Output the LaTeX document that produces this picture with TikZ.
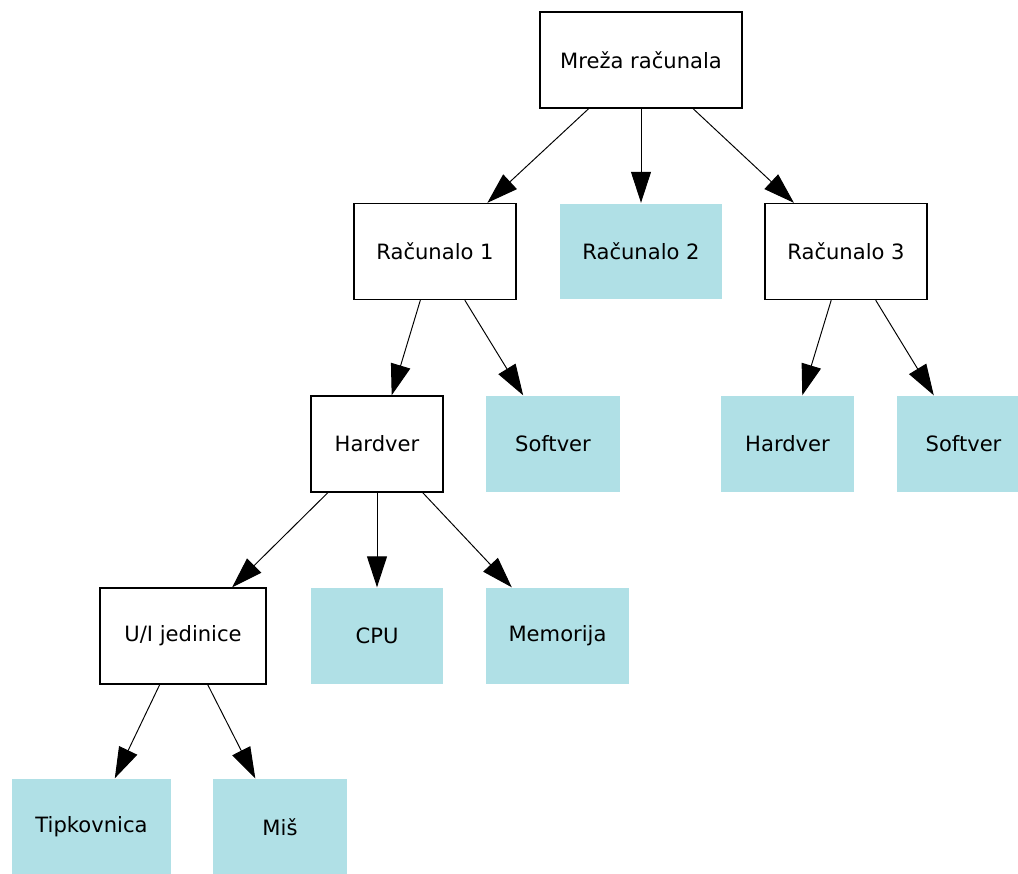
\documentclass[tikz,border=0pt]{standalone}
\usepackage{fontspec}
\setmainfont{DejaVu Sans}
\usepackage{tikz}
\usetikzlibrary{arrows.meta}
\definecolor{powderblue}{HTML}{B0E0E6}

\begin{document}
\begin{tikzpicture}[
      x=0.02cm, y=-0.02cm,
      box/.style={draw=black, line width=0.8pt, fill=white,
                  minimum height=1.92cm, inner sep=0pt,
                  font=\fontsize{12}{14}\selectfont, align=center},
      leaf/.style={box, draw=none, fill=powderblue},
      arrow/.style={-{Triangle[length=0.62cm, width=0.4cm]}, line width=0.55pt, black}
    ]
    \clip (0,0) rectangle (1018,873);
    % root
    \node[box, minimum width=4.04cm]  (net) at (641,60)    {Mreža računala};
    % racunala
    \node[box, minimum width=3.24cm]  (r1)  at (435,251.5) {Računalo 1};
    \node[leaf, minimum width=3.26cm] (r2)  at (641,251.5) {Računalo 2};
    \node[box, minimum width=3.24cm]  (r3)  at (846,251.5) {Računalo 3};
    % hardver / softver
    \node[box, minimum width=2.64cm]  (hw1) at (377,444)   {Hardver};
    \node[leaf, minimum width=2.68cm] (sw1) at (553,444)   {Softver};
    \node[leaf, minimum width=2.66cm] (hw3) at (787.5,444) {Hardver};
    \node[leaf, minimum width=2.66cm] (sw3) at (963.5,444) {Softver};
    % dijelovi hardvera
    \node[box, minimum width=3.32cm]  (ui)  at (183,636)   {U/I jedinice};
    \node[leaf, minimum width=2.66cm] (cpu) at (377,636)   {CPU};
    \node[leaf, minimum width=2.86cm] (mem) at (557.5,636) {Memorija};
    % U/I jedinice
    \node[leaf, minimum width=3.18cm] (tip) at (91.5,827)  {Tipkovnica};
    \node[leaf, minimum width=2.68cm] (mis) at (280,827)   {Miš};
    \draw[arrow] (net) -- (r1);
    \draw[arrow] (net) -- (r2);
    \draw[arrow] (net) -- (r3);
    \draw[arrow] (r1) -- (hw1);
    \draw[arrow] (r1) -- (sw1);
    \draw[arrow] (r3) -- (hw3);
    \draw[arrow] (r3) -- (sw3);
    \draw[arrow] (hw1) -- (ui);
    \draw[arrow] (hw1) -- (cpu);
    \draw[arrow] (hw1) -- (mem);
    \draw[arrow] (ui) -- (tip);
    \draw[arrow] (ui) -- (mis);
  \end{tikzpicture}
\end{document}
